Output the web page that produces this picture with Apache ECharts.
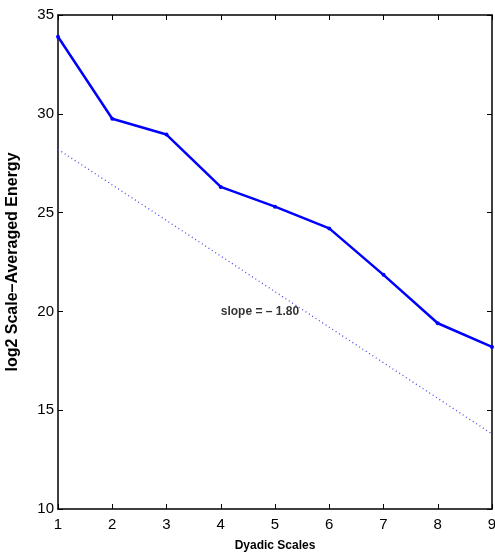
<!DOCTYPE html>
<html>
<head>
<meta charset="utf-8">
<script src="https://cdn.jsdelivr.net/npm/echarts@6/dist/echarts.min.js"></script>
<style>
html, body { margin: 0; padding: 0; background: #fff; }
#main { width: 495px; height: 553px; }
</style>
</head>
<body>
<div id="main"></div>
<script>
// 数据
var scales = [1, 2, 3, 4, 5, 6, 7, 8, 9];
var energy = [33.9, 29.75, 28.95, 26.3, 25.3, 24.2, 21.85, 19.4, 18.2];
var fitLine = [28.2, 26.4, 24.6, 22.8, 21.0, 19.2, 17.4, 15.6, 13.8];
var slopeText = 'slope = \u2013 1.80';

var fontFam = '"Liberation Sans Narrow", "Liberation Sans", Arial, sans-serif';

function pairs(xs, ys) {
    var out = [];
    for (var i = 0; i < xs.length; i++) {
        out.push([xs[i], ys[i]]);
    }
    return out;
}

var myChart = echarts.init(document.getElementById('main'));
var option = {
    animation: false,
    grid: { left: 58, right: 3, top: 15, bottom: 44, outerBoundsMode: 'none', containLabel: false },
    xAxis: [
        {
            type: 'value',
            min: 1, max: 9, interval: 1,
            name: 'Dyadic Scales',
            nameLocation: 'middle',
            nameGap: 31,
            nameTextStyle: { fontFamily: 'Arial, sans-serif', fontSize: 12, fontWeight: 'bold', color: '#000' },
            axisLine: { lineStyle: { color: '#000', width: 1.5 } },
            axisTick: { inside: true, length: 5, lineStyle: { color: '#000' } },
            axisLabel: { fontFamily: fontFam, fontSize: 15, color: '#000', margin: 8 },
            splitLine: { show: false }
        },
        {
            type: 'value', position: 'top',
            min: 1, max: 9, interval: 1,
            axisLine: { lineStyle: { color: '#000', width: 1.5 } },
            axisTick: { inside: true, length: 5, lineStyle: { color: '#000' } },
            axisLabel: { show: false },
            splitLine: { show: false }
        }
    ],
    yAxis: [
        {
            type: 'value',
            min: 10, max: 35, interval: 5,
            name: 'log2 Scale\u2013Averaged Energy',
            nameLocation: 'middle',
            nameGap: 37,
            nameTextStyle: { fontFamily: 'Arial, sans-serif', fontSize: 16, fontWeight: 'bold', color: '#000' },
            axisLine: { show: true, lineStyle: { color: '#000', width: 1.5 } },
            axisTick: { show: true, inside: true, length: 5, lineStyle: { color: '#000' } },
            axisLabel: { fontFamily: fontFam, fontSize: 15, color: '#000', margin: 4 },
            splitLine: { show: false }
        },
        {
            type: 'value', position: 'right',
            min: 10, max: 35, interval: 5,
            axisLine: { show: true, lineStyle: { color: '#000', width: 1.5 } },
            axisTick: { show: true, inside: true, length: 5, lineStyle: { color: '#000' } },
            axisLabel: { show: false },
            splitLine: { show: false }
        }
    ],
    series: [
        {
            type: 'line',
            data: pairs(scales, fitLine),
            symbol: 'none',
            lineStyle: { color: '#4848e8', width: 1.3, type: [1, 3] },
            z: 2
        },
        {
            type: 'line',
            data: pairs(scales, energy),
            symbol: 'circle',
            symbolSize: 4,
            itemStyle: { color: '#0000ff' },
            lineStyle: { color: '#0000ff', width: 2.5 },
            z: 3
        },
        {
            type: 'scatter',
            data: [[4, 20]],
            symbolSize: 0,
            label: {
                show: true,
                position: 'right',
                distance: 0,
                formatter: slopeText,
                fontFamily: 'Arial, sans-serif',
                fontSize: 12,
                fontWeight: 'bold',
                color: '#000'
            },
            z: 4
        }
    ]
};
myChart.setOption(option);
</script>
</body>
</html>
